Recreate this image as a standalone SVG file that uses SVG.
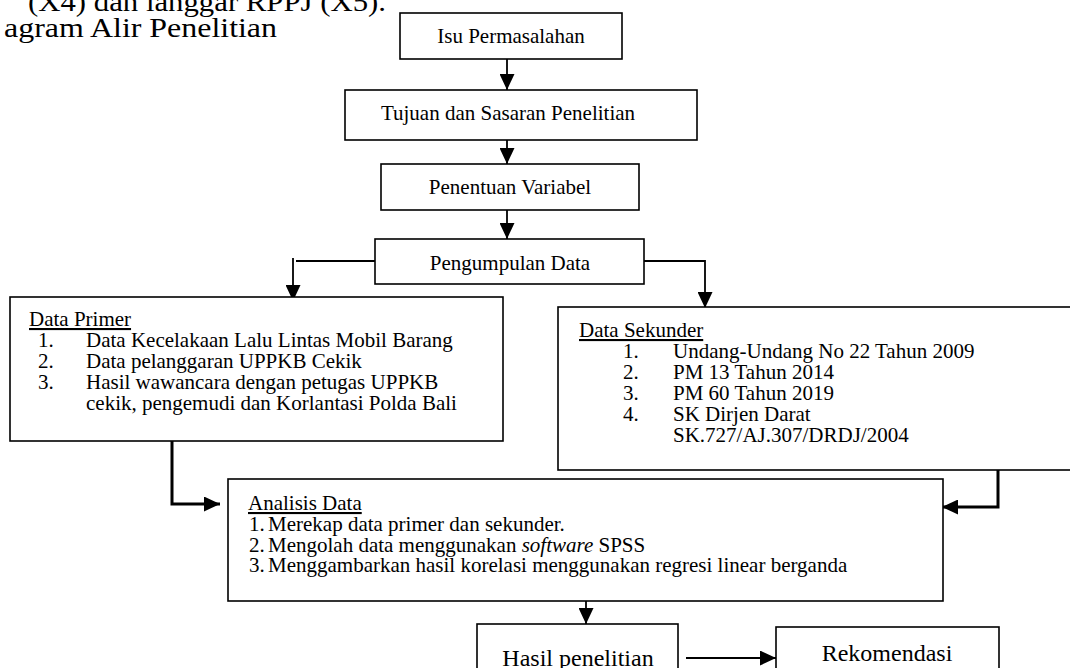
<svg xmlns="http://www.w3.org/2000/svg" width="1070" height="668" viewBox="0 0 1070 668">
<style>
text{font-family:"Liberation Serif","Times New Roman",serif;fill:#000}
.t{font-size:21px}
.b{font-size:24px}
.c{text-anchor:middle}
.u{text-decoration:underline}
.box{fill:#fff;stroke:#000;stroke-width:1.6}
.ln{fill:none;stroke:#000;stroke-width:1.8}
.thk{fill:none;stroke:#000;stroke-width:3}
</style>
<defs>
<marker id="ah" viewBox="0 0 16 15" refX="16" refY="7.5" markerWidth="16" markerHeight="15" markerUnits="userSpaceOnUse" orient="auto">
<path d="M0,0 L16,7.5 L0,15 Z" fill="#000"/>
</marker>
</defs>
<rect width="1070" height="668" fill="#fff"/>
<g id="heading">
<text x="28" y="11" font-size="27" textLength="358" lengthAdjust="spacingAndGlyphs">(X4) dan langgar RPPJ (X5).</text>
<text x="4" y="37" font-size="27" textLength="273" lengthAdjust="spacingAndGlyphs">agram Alir Penelitian</text>
</g>
<g id="connectors">
<line class="ln" x1="507" y1="59" x2="507" y2="90" marker-end="url(#ah)"/>
<line class="ln" x1="507" y1="140" x2="507" y2="164" marker-end="url(#ah)"/>
<line class="ln" x1="507" y1="210" x2="507" y2="239" marker-end="url(#ah)"/>
<line class="ln" x1="296" y1="261" x2="375" y2="261"/>
<line class="ln" x1="293" y1="258" x2="293" y2="301" marker-end="url(#ah)"/>
<path class="ln" d="M644,261 H705 V308" marker-end="url(#ah)"/>
<path class="thk" d="M172,441 V504 H220" marker-end="url(#ah)"/>
<path class="thk" d="M998,465 V507 H942" marker-end="url(#ah)"/>
<line class="ln" x1="586" y1="601" x2="586" y2="624" marker-end="url(#ah)"/>
<line class="ln" x1="686" y1="658" x2="776" y2="658" marker-end="url(#ah)"/>
</g>
<g id="isu">
<rect class="box" x="400" y="13" width="222" height="46"/>
<text class="t c" x="511" y="43">Isu Permasalahan</text>
</g>
<g id="tujuan">
<rect class="box" x="345" y="90" width="352" height="50"/>
<text class="t c" x="508" y="120">Tujuan dan Sasaran Penelitian</text>
</g>
<g id="penentuan">
<rect class="box" x="381" y="164" width="258" height="46"/>
<text class="t c" x="510" y="194">Penentuan Variabel</text>
</g>
<g id="pengumpulan">
<rect class="box" x="375" y="239" width="269" height="45"/>
<text class="t c" x="510" y="270">Pengumpulan Data</text>
</g>
<g id="primer">
<rect class="box" x="10" y="297" width="493" height="144"/>
<text class="t u" x="29" y="326">Data Primer</text>
<text class="t" x="38" y="347">1.</text><text class="t" x="86" y="347">Data Kecelakaan Lalu Lintas Mobil Barang</text>
<text class="t" x="38" y="368">2.</text><text class="t" x="86" y="368">Data pelanggaran UPPKB Cekik</text>
<text class="t" x="38" y="389">3.</text><text class="t" x="86" y="389">Hasil wawancara dengan petugas UPPKB</text>
<text class="t" x="86" y="410">cekik, pengemudi dan Korlantasi Polda Bali</text>
</g>
<g id="sekunder">
<rect class="box" x="558" y="307" width="520" height="163"/>
<text class="t u" x="579" y="337">Data Sekunder</text>
<text class="t" x="623" y="358">1.</text><text class="t" x="673" y="358">Undang-Undang No 22 Tahun 2009</text>
<text class="t" x="623" y="379">2.</text><text class="t" x="673" y="379">PM 13 Tahun 2014</text>
<text class="t" x="623" y="400">3.</text><text class="t" x="673" y="400">PM 60 Tahun 2019</text>
<text class="t" x="623" y="421">4.</text><text class="t" x="673" y="421">SK Dirjen Darat</text>
<text class="t" x="673" y="442">SK.727/AJ.307/DRDJ/2004</text>
</g>
<g id="analisis">
<rect class="box" x="228" y="479" width="715" height="122"/>
<text class="t u" x="248" y="510">Analisis Data</text>
<text class="t" x="249" y="531">1.</text><text class="t" x="268" y="531">Merekap data primer dan sekunder.</text>
<text class="t" x="249" y="552">2.</text><text class="t" x="268" y="552">Mengolah data menggunakan <tspan font-style="italic">software</tspan> SPSS</text>
<text class="t" x="249" y="572">3.</text><text class="t" x="268" y="572">Menggambarkan hasil korelasi menggunakan regresi linear berganda</text>
</g>
<g id="hasil">
<rect class="box" x="477" y="624" width="201" height="56"/>
<text class="b c" x="578" y="666">Hasil penelitian</text>
</g>
<g id="rekomendasi">
<rect class="box" x="776" y="627" width="223" height="56"/>
<text class="b c" x="887" y="661">Rekomendasi</text>
</g>
</svg>
